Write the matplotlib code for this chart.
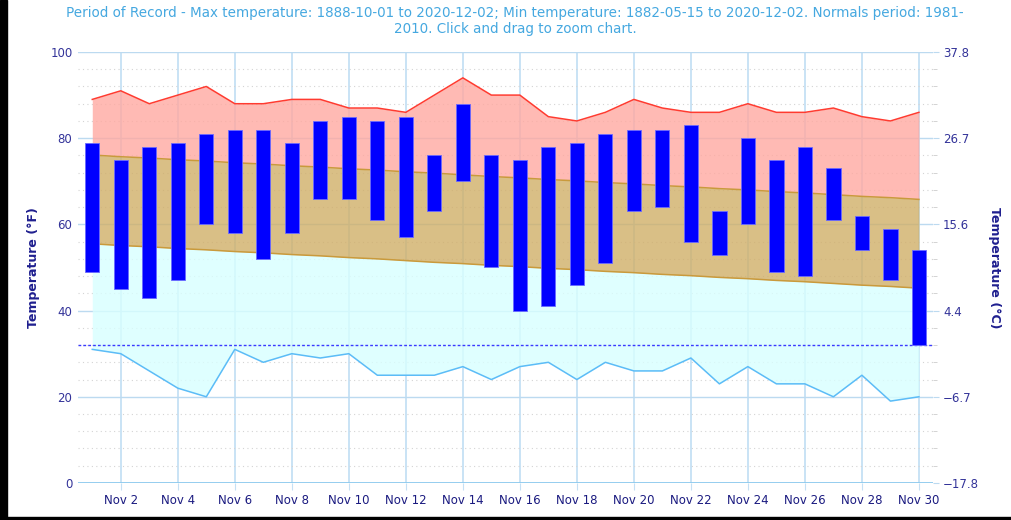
import matplotlib
matplotlib.use("Agg")
import matplotlib.pyplot as plt
import matplotlib.dates as mdates
from matplotlib.patches import Rectangle
from matplotlib.ticker import FuncFormatter, MultipleLocator
import numpy as np
import pandas as pd

# November 2020 daily data (deg F)
dates = pd.date_range("2020-11-01", "2020-11-30", freq="D")
obs_high = [79, 75, 78, 79, 81, 82, 82, 79, 84, 85, 84, 85, 76, 88, 76,
            75, 78, 79, 81, 82, 82, 83, 63, 80, 75, 78, 73, 62, 59, 54]
obs_low = [49, 45, 43, 47, 60, 58, 52, 58, 66, 66, 61, 57, 63, 70, 50,
           40, 41, 46, 51, 63, 64, 56, 53, 60, 49, 48, 61, 54, 47, 32]
rec_high = [89, 91, 88, 90, 92, 88, 88, 89, 89, 87, 87, 86, 90, 94, 90,
            90, 85, 84, 86, 89, 87, 86, 86, 88, 86, 86, 87, 85, 84, 86]
rec_low = [31, 30, 26, 22, 20, 31, 28, 30, 29, 30, 25, 25, 25, 27, 24,
           27, 28, 24, 28, 26, 26, 29, 23, 27, 23, 23, 20, 25, 19, 20]
norm_high = [76.1, 75.7, 75.4, 75.0, 74.7, 74.3, 74.0, 73.6, 73.3, 72.9,
             72.6, 72.2, 71.9, 71.5, 71.1, 70.8, 70.4, 70.1, 69.7, 69.4,
             69.0, 68.7, 68.3, 68.0, 67.6, 67.3, 66.9, 66.5, 66.2, 65.8]
norm_low = [55.5, 55.1, 54.8, 54.4, 54.1, 53.7, 53.4, 53.0, 52.7, 52.3,
            52.0, 51.6, 51.2, 50.9, 50.5, 50.2, 49.8, 49.5, 49.1, 48.8,
            48.4, 48.1, 47.7, 47.4, 47.0, 46.7, 46.3, 45.9, 45.6, 45.2]
freezing = 32

title = ("Period of Record - Max temperature: 1888-10-01 to 2020-12-02; Min temperature: "
         "1882-05-15 to 2020-12-02. Normals period: 1981-\n2010. Click and drag to zoom chart.")

fig = plt.figure(figsize=(10.12, 5.2), dpi=100)
ax = fig.add_axes([0.0771, 0.0712, 0.845, 0.8288])

x = mdates.date2num(dates)
obs_high = np.array(obs_high)
obs_low = np.array(obs_low)

# bands (slightly see-through so the grid shows like the original)
ax.fill_between(x, norm_high, rec_high, color="#ffa9a1", alpha=0.8, lw=0, zorder=1)
ax.fill_between(x, norm_low, norm_high, color="#d0af68", alpha=0.8, lw=0, zorder=1)
ax.fill_between(x, rec_low, norm_low, color="#d8ffff", alpha=0.8, lw=0, zorder=1)
ax.plot(x, rec_high, color="#ff3b30", lw=1.1, zorder=2)
ax.plot(x, norm_high, color="#c99a3c", lw=1.1, zorder=2)
ax.plot(x, norm_low, color="#c99a3c", lw=1.1, zorder=2)
ax.plot(x, rec_low, color="#5cbcf7", lw=1.1, zorder=2)

ax.axhline(freezing, color="#3a3aff", lw=1, ls=(0, (2, 1.5)), zorder=3)

ax.bar(x, obs_high - obs_low, bottom=obs_low, width=0.5, color="#0000ff",
       edgecolor="#6a6aff", lw=0.6, zorder=4)

ax.set_xlim(x[0] - 0.5, x[-1] + 0.5)
ax.set_ylim(0, 100)

# x axis
ax.xaxis.set_major_locator(mdates.DayLocator(bymonthday=range(2, 31, 2)))
ax.xaxis.set_major_formatter(FuncFormatter(lambda v, p: f"Nov {mdates.num2date(v).day}"))
ax.tick_params(axis="x", length=5, color="#c5e0f5", labelcolor="#1a1a80",
               labelsize=8.5, pad=3)

# y axis
ax.yaxis.set_major_locator(MultipleLocator(20))
ax.yaxis.set_minor_locator(MultipleLocator(4))
ax.tick_params(axis="y", which="major", length=0, labelcolor="#333399", labelsize=8.5, pad=4)
ax.tick_params(axis="y", which="minor", length=0)

ax.grid(axis="x", which="major", color="#c5e0f5", lw=1.3, zorder=0)
ax.grid(axis="y", which="major", color="#bcdaf0", lw=1.0)
ax.grid(axis="y", which="minor", color="#d4d4d4", lw=0.8, ls=(0, (1, 3)))
ax.axhline(0, color="#8ccaee", lw=2, zorder=5)
for s in ax.spines.values():
    s.set_visible(False)
ax.set_axisbelow(True)

ax.set_ylabel("Temperature (°F)", color="#1f1f8f", fontsize=9, fontweight="bold", labelpad=7)

# right axis in Celsius
ax2 = ax.twinx()
ax2.set_ylim(0, 100)
ax2.yaxis.set_major_locator(MultipleLocator(20))
ax2.yaxis.set_minor_locator(MultipleLocator(4))
ax2.yaxis.set_major_formatter(
    FuncFormatter(lambda v, p: f"{(v - 32) * 5 / 9:.1f}".replace("-", "\u2212")))
ax2.tick_params(axis="y", which="major", length=4, color="#bcdaf0", labelcolor="#333399",
                labelsize=8.5, pad=3)
ax2.tick_params(axis="y", which="minor", length=3, color="#cccccc")
for s in ax2.spines.values():
    s.set_visible(False)
ax2.set_ylabel("Temperature (°C)", color="#1f1f8f", fontsize=9, fontweight="bold",
               rotation=270, labelpad=16)

fig.text(0.509, 0.989, title, ha="center", va="top", color="#45a8e0",
         fontsize=9.75, linespacing=1.2)

# black frame bits from the screenshot
fig.patches.append(Rectangle((0, 0), 7 / 1012, 1, transform=fig.transFigure,
                             color="black", zorder=10))
fig.patches.append(Rectangle((0, 0), 1, 3 / 520, transform=fig.transFigure,
                             color="black", zorder=10))

fig.savefig("out.png", dpi=100)
plt.close(fig)
